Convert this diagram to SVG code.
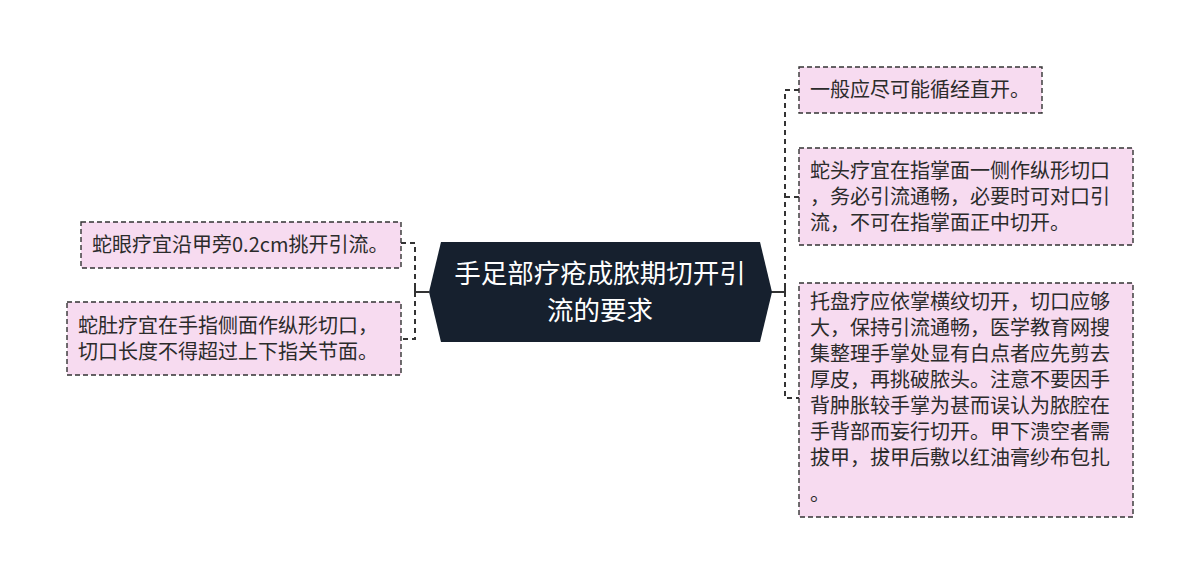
<svg xmlns="http://www.w3.org/2000/svg" width="1200" height="584" viewBox="0 0 1200 584">
<style>
.box{fill:#f7dbf0;stroke:#333;stroke-width:1.4;stroke-dasharray:5 3}
.t{font-family:"Noto Sans CJK SC","Noto Sans",sans-serif;font-size:20px;fill:#2b2b2b}
.ct{font-family:"Noto Sans CJK SC","Noto Sans",sans-serif;font-size:26.5px;fill:#fff}
.dash{fill:none;stroke:#333;stroke-width:2;stroke-dasharray:5 4}
.solid{fill:none;stroke:#333;stroke-width:2}
</style>
<rect width="1200" height="584" fill="#fff"/>
<g id="connectors">
<path class="solid" d="M429 292H415M415 287V297"/>
<path class="dash" d="M401 243H415V339H401"/>
<path class="solid" d="M771 292H785M785 287V297"/>
<path class="dash" d="M799 90H785V398H799M785 197H799"/>
</g>
<g id="center">
<polygon points="429,292 441,242 760,242 772,292 760,342 441,342" fill="#16202e"/>
<text class="ct" x="600" y="283" text-anchor="middle">手足部疗疮成脓期切开引</text>
<text class="ct" x="600" y="320" text-anchor="middle">流的要求</text>
</g>
<g id="left1">
<rect class="box" x="81" y="222" width="320" height="46"/>
<text class="t" x="92" y="252">蛇眼疗宜沿甲旁0.2cm挑开引流。</text>
</g>
<g id="left2">
<rect class="box" x="67" y="302" width="334" height="73"/>
<text class="t" x="78" y="333">蛇肚疗宜在手指侧面作纵形切口，</text>
<text class="t" x="78" y="359">切口长度不得超过上下指关节面。</text>
</g>
<g id="right1">
<rect class="box" x="799" y="67" width="243" height="46"/>
<text class="t" x="810" y="97">一般应尽可能循经直开。</text>
</g>
<g id="right2">
<rect class="box" x="799" y="148" width="334" height="97"/>
<text class="t" x="810" y="178">蛇头疗宜在指掌面一侧作纵形切口</text>
<text class="t" x="810" y="204">，务必引流通畅，必要时可对口引</text>
<text class="t" x="810" y="230">流，不可在指掌面正中切开。</text>
</g>
<g id="right3">
<rect class="box" x="799" y="283" width="334" height="234"/>
<text class="t" x="810" y="309">托盘疗应依掌横纹切开，切口应够</text>
<text class="t" x="810" y="335">大，保持引流通畅，医学教育网搜</text>
<text class="t" x="810" y="361">集整理手掌处显有白点者应先剪去</text>
<text class="t" x="810" y="387">厚皮，再挑破脓头。注意不要因手</text>
<text class="t" x="810" y="413">背肿胀较手掌为甚而误认为脓腔在</text>
<text class="t" x="810" y="439">手背部而妄行切开。甲下溃空者需</text>
<text class="t" x="810" y="465">拔甲，拔甲后敷以红油膏纱布包扎</text>
<text class="t" x="810" y="501">。</text>
</g>
</svg>
